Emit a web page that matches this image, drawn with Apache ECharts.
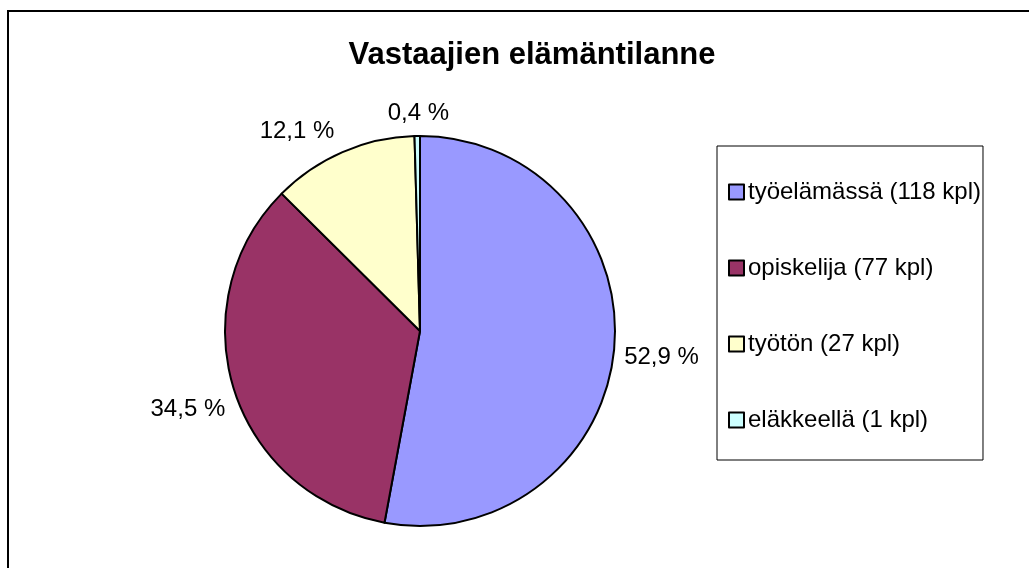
<!DOCTYPE html>
<html>
<head>
<meta charset="utf-8">
<title>Vastaajien elämäntilanne</title>
<script src="https://cdn.jsdelivr.net/npm/echarts@6/dist/echarts.min.js"></script>
<style>
    html, body { margin: 0; padding: 0; background: #fff; }
    #chart { width: 1029px; height: 568px; }
</style>
</head>
<body>
<div id="chart"></div>
<script>
// data
var categories = ['työelämässä', 'opiskelija', 'työtön', 'eläkkeellä'];
var counts = [118, 77, 27, 1];
var colors = ['#9999FF', '#993366', '#FFFFCC', '#CCFFFF'];

var total = counts.reduce(function (a, b) { return a + b; }, 0);

var legendNames = categories.map(function (c, i) {
    return c + ' (' + counts[i] + ' kpl)';
});

var pieData = legendNames.map(function (n, i) {
    return { name: n, value: counts[i], itemStyle: { color: colors[i] } };
});

// small nudges so the labels sit where Excel put them
var labelNudge = [[-3, 8], [4, 18], [0, -13], [37, -15]];

var chart = echarts.init(document.getElementById('chart'));
var font = '"Liberation Sans", Arial, sans-serif';

chart.setOption({
    animation: false,
    backgroundColor: '#fff',
    title: {
        text: 'Vastaajien elämäntilanne',
        left: 527,
        top: 35,
        textAlign: 'center',
        textStyle: { fontFamily: font, fontSize: 31, fontWeight: 'bold', color: '#000' }
    },
    graphic: [{
        type: 'rect',
        shape: { x: 8, y: 11, width: 1040, height: 600 },
        style: { fill: 'none', stroke: '#000', lineWidth: 2 },
        silent: true
    }],
    legend: {
        orient: 'vertical',
        left: 717,
        top: 146,
        padding: [34, 2, 28, 11],
        itemGap: 52,
        itemWidth: 15,
        itemHeight: 15,
        itemGap: 52,
        icon: 'rect',
        borderColor: '#000',
        borderWidth: 1,
        data: legendNames,
        itemStyle: { borderColor: '#000', borderWidth: 2 },
        textStyle: { fontFamily: font, fontSize: 24, color: '#000', padding: [0, 0, 0, -1] }
    },
    series: [{
        type: 'pie',
        center: [420, 331],
        radius: 195,
        startAngle: 90,
        clockwise: true,
        avoidLabelOverlap: false,
        itemStyle: { borderColor: '#000', borderWidth: 2 },
        label: {
            show: true,
            position: 'outside',
            fontFamily: font,
            fontSize: 24,
            color: '#000',
            formatter: function (p) {
                return (p.value / total * 100).toFixed(1).replace('.', ',') + ' %';
            }
        },
        labelLine: { show: false, length: 8, length2: 0 },
        labelLayout: function (params) {
            var n = labelNudge[params.dataIndex];
            return { dx: n[0], dy: n[1] };
        },
        emphasis: { disabled: true },
        data: pieData
    }]
});
</script>
</body>
</html>
